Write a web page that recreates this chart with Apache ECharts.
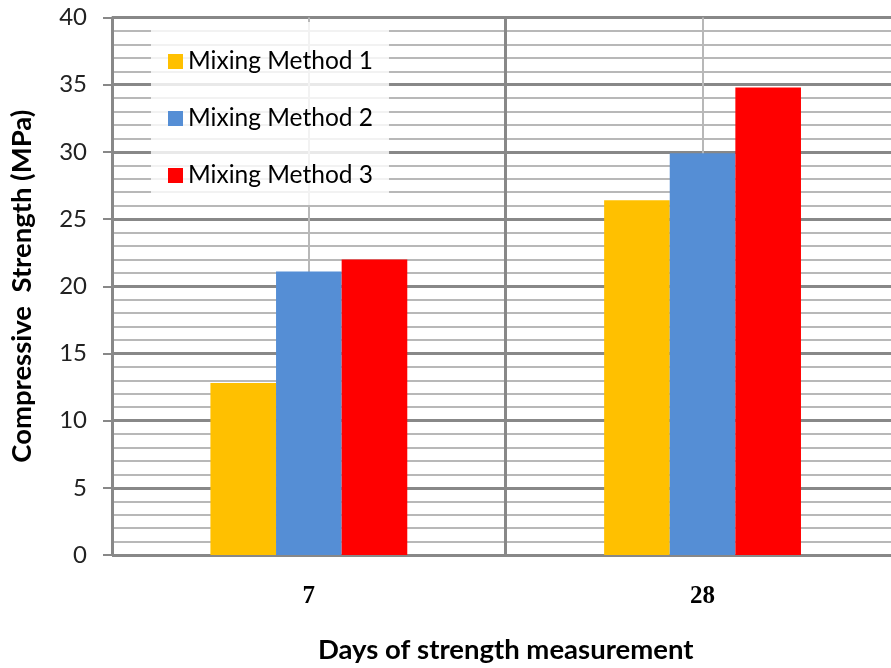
<!DOCTYPE html>
<html>
<head>
<meta charset="utf-8">
<script src="https://cdn.jsdelivr.net/npm/echarts@6/dist/echarts.min.js"></script>
<style>
  html, body { margin: 0; padding: 0; background: #fff; }
  #chart { width: 891px; height: 668px; }
</style>
</head>
<body>
<div id="chart"></div>
<script>
// Compressive strength by curing age for three mixing methods
const days = ['7', '28'];
const method1 = [12.8, 26.4];
const method2 = [21.1, 29.9];
const method3 = [22.0, 34.8];
const seriesNames = ['Mixing Method 1', 'Mixing Method 2', 'Mixing Method 3'];
const yTicks = { min: 0, max: 40, step: 5 };

const sansFont = 'Lato, "Open Sans", sans-serif';
const majorGrid = '#888888';
const minorGrid = '#b8b8b8';

const chart = echarts.init(document.getElementById('chart'), null, { renderer: 'canvas' });

const barSeries = [method1, method2, method3].map((vals, i) => ({
  name: seriesNames[i],
  type: 'bar',
  data: vals,
  barGap: '0%',
  barCategoryGap: '50%',
  xAxisIndex: 0,
  itemStyle: { color: ['#FFC000', '#558ED5', '#FF0000'][i] }
}));

chart.setOption({
  animation: false,
  backgroundColor: '#ffffff',
  // plot area runs a little past the right edge of the canvas
  grid: {
    left: 112, top: 17.5, width: 787.4, height: 537.5,
    containLabel: false, outerBoundsMode: 'none'
  },
  legend: {
    orient: 'vertical',
    left: 151,
    top: 22,
    padding: [27, 16, 17, 17],
    itemGap: 32,
    itemWidth: 15,
    itemHeight: 15,
    icon: 'rect',
    backgroundColor: 'rgba(255,255,255,0.82)',
    textStyle: { fontFamily: sansFont, fontSize: 24.5, color: '#000', lineHeight: 20 },
    data: seriesNames
  },
  xAxis: [
    {
      type: 'category',
      data: days,
      axisLine: { show: true, lineStyle: { color: majorGrid, width: 2 } },
      axisTick: { show: false },
      splitLine: { show: true, lineStyle: { color: majorGrid, width: 3 } },
      axisLabel: {
        margin: 29,
        fontFamily: '"Liberation Serif", "Times New Roman", serif',
        fontWeight: 'bold',
        fontSize: 25,
        color: '#000'
      },
      name: 'Days of strength measurement',
      nameLocation: 'middle',
      nameGap: 81,
      nameTextStyle: { fontFamily: sansFont, fontWeight: 'bold', fontSize: 27.5, color: '#000' }
    },
    {
      // category centre lines
      type: 'value',
      min: 0,
      max: 2,
      interval: 1,
      show: true,
      position: 'bottom',
      axisLine: { show: false },
      axisTick: { show: false },
      axisLabel: { show: false },
      splitLine: { show: false },
      minorTick: { show: false, splitNumber: 2 },
      minorSplitLine: { show: true, lineStyle: { color: minorGrid, width: 2 } }
    }
  ],
  yAxis: {
    type: 'value',
    min: yTicks.min,
    max: yTicks.max,
    interval: yTicks.step,
    axisLine: { show: true, lineStyle: { color: majorGrid, width: 2 } },
    axisTick: { show: true, length: 9, lineStyle: { color: majorGrid, width: 2 } },
    splitLine: { show: true, lineStyle: { color: majorGrid, width: 3 } },
    minorTick: { show: false, splitNumber: 5 },
    minorSplitLine: { show: true, lineStyle: { color: minorGrid, width: 2 } },
    axisLabel: { margin: 25, fontFamily: sansFont, fontSize: 24, color: '#222' },
    name: 'Compressive  Strength (MPa)',
    nameLocation: 'middle',
    nameGap: 76,
    nameTextStyle: { fontFamily: sansFont, fontWeight: 'bold', fontSize: 27.5, color: '#000' }
  },
  series: barSeries
});
</script>
</body>
</html>
